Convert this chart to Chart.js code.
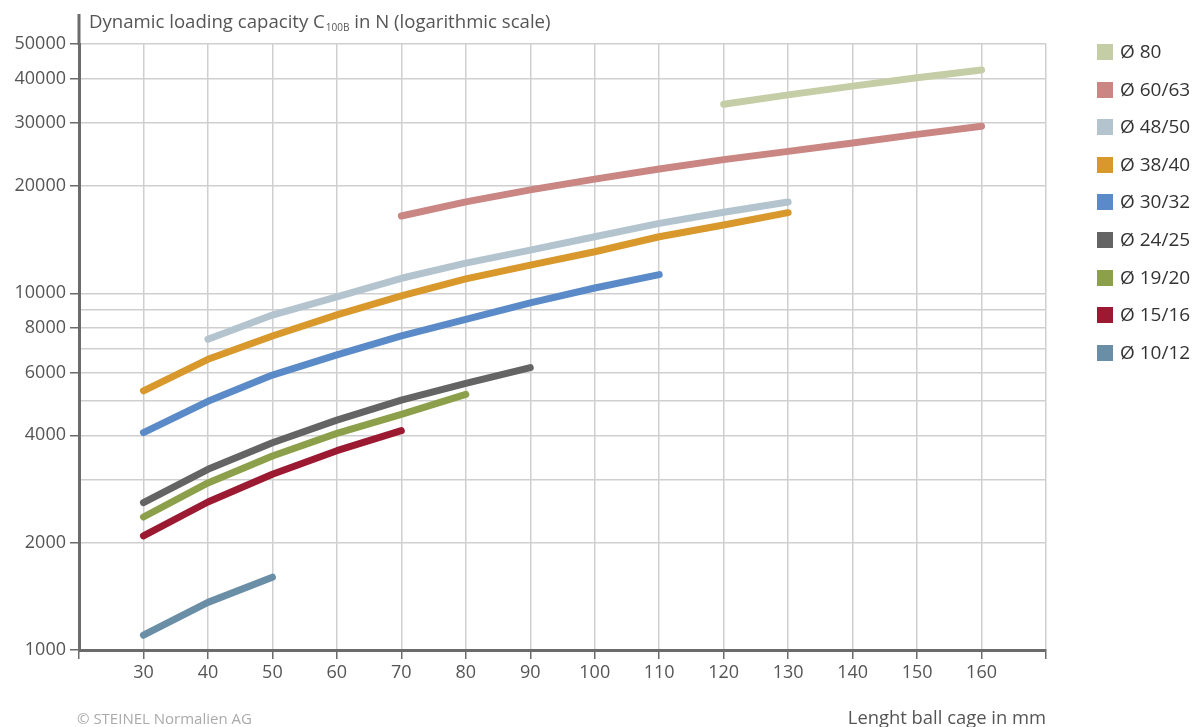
<!DOCTYPE html>
<html>
<head>
<meta charset="utf-8">
<script src="https://cdn.jsdelivr.net/npm/chart.js@4/dist/chart.umd.min.js"></script>
<style>
  html, body { margin: 0; padding: 0; background: #fff; }
  #wrap { position: relative; width: 1200px; height: 727px; overflow: hidden; font-family: "Open Sans", "Noto Sans", sans-serif; }
  canvas { position: absolute; left: 0; top: 0; }
  .txt { position: absolute; white-space: nowrap; }
  #ytitle { left: 89px; top: 8px; font-size: 18.6px; color: #555; }
  #ytitle sub { font-size: 10px; vertical-align: -3px; margin-left: 1px; }
  #xtitle { right: 154px; top: 704px; font-size: 18.4px; color: #555; }
  #copy { left: 77px; top: 708px; font-size: 15px; color: #aaa; }
  #legend { position: absolute; left: 1097px; top: 0; }
  .li { position: absolute; left: 0; width: 110px; height: 24px; }
  .sw { position: absolute; left: 0; top: 4px; width: 16px; height: 16px; }
  .lt { position: absolute; left: 23px; top: -2px; font-size: 19px; color: #333; white-space: nowrap; }
</style>
</head>
<body>
<div id="wrap">
  <canvas id="c" width="1200" height="727"></canvas>
  <div class="txt" id="ytitle">Dynamic loading capacity C<sub>100B</sub> in N (logarithmic scale)</div>
  <div class="txt" id="xtitle">Lenght ball cage in mm</div>
  <div class="txt" id="copy">© STEINEL Normalien AG</div>
  <div id="legend"></div>
</div>
<script>
// Cage lengths in mm (x categories)
const lengths = [30, 40, 50, 60, 70, 80, 90, 100, 110, 120, 130, 140, 150, 160];

// Series values (N), aligned with lengths; null = no value
const d80    = [null, null, null, null, null, null, null, null, null, 33900, 36000, 38100, 40200, 42300];
const d60_63 = [null, null, null, null, 16470, 18050, 19500, 20900, 22300, 23700, 25000, 26400, 27900, 29400];
const d48_50 = [null, 7430, 8690, 9780, 11020, 12150, 13220, 14410, 15710, 16870, 18030, null, null, null];
const d38_40 = [5330, 6530, 7590, 8700, 9830, 10980, 12000, 13080, 14410, 15540, 16830, null, null, null];
const d30_32 = [4070, 4980, 5900, 6720, 7600, 8450, 9400, 10350, 11280, null, null, null, null, null];
const d24_25 = [2590, 3210, 3810, 4410, 5020, 5590, 6190, null, null, null, null, null, null, null];
const d19_20 = [2360, 2940, 3500, 4050, 4580, 5210, null, null, null, null, null, null, null, null];
const d15_16 = [2090, 2600, 3110, 3620, 4120, null, null, null, null, null, null, null, null, null];
const d10_12 = [1100, 1360, 1600, null, null, null, null, null, null, null, null, null, null, null];

const seriesNames = ["Ø 80", "Ø 60/63", "Ø 48/50", "Ø 38/40", "Ø 30/32", "Ø 24/25", "Ø 19/20", "Ø 15/16", "Ø 10/12"];
const seriesValues = [d80, d60_63, d48_50, d38_40, d30_32, d24_25, d19_20, d15_16, d10_12];
const seriesColors = ["#c5cda6", "#c98683", "#b3c4cf", "#d9982c", "#5b8ac8", "#646464", "#8ca04b", "#9b1a32", "#6a8ea6"];

// Y tick labels shown (log scale)
const yLabeled = [1000, 2000, 4000, 6000, 8000, 10000, 20000, 30000, 40000, 50000];
const xMin = 20, xMax = 170, yMin = 1000, yMax = 50000;

const datasets = seriesNames.map((name, i) => ({
  label: name,
  data: lengths.map((x, j) => ({ x: x, y: seriesValues[i][j] })).filter(p => p.y !== null),
  borderColor: seriesColors[i],
  backgroundColor: seriesColors[i],
  borderWidth: 7,
  borderCapStyle: 'round',
  borderJoinStyle: 'round',
  pointRadius: 0,
  tension: 0,
  fill: false
}));

// Legend (HTML)
const leg = document.getElementById('legend');
seriesNames.forEach((name, i) => {
  const li = document.createElement('div');
  li.className = 'li';
  li.style.top = (52 - 12 + i * 37.6) + 'px';
  li.innerHTML = '<div class="sw" style="background:' + seriesColors[i] + '"></div><div class="lt">' + name + '</div>';
  leg.appendChild(li);
});

const axisColor = '#6b6b6b';
const axisExt = {
  id: 'axisExt',
  afterDraw(chart) {
    const ctx = chart.ctx, a = chart.chartArea;
    ctx.save();
    ctx.strokeStyle = axisColor;
    ctx.lineWidth = 3;
    ctx.beginPath();
    ctx.moveTo(a.left, a.top + 1);
    ctx.lineTo(a.left, 14);
    ctx.stroke();
    ctx.restore();
  }
};

new Chart(document.getElementById('c'), {
  type: 'line',
  data: { datasets },
  plugins: [axisExt],
  options: {
    responsive: false,
    animation: false,
    devicePixelRatio: 1,
    layout: { padding: { left: 0, right: 154, top: 44, bottom: 0 } },
    plugins: { legend: { display: false }, tooltip: { enabled: false } },
    scales: {
      x: {
        type: 'linear',
        min: xMin, max: xMax,
        afterFit(s) { s.height = 77; },
        ticks: {
          stepSize: 10,
          autoSkip: false,
          maxRotation: 0,
          padding: 3,
          color: '#555',
          font: { family: '"Open Sans", "Noto Sans", sans-serif', size: 18 },
          callback: v => (v === xMin || v === xMax) ? '' : String(v)
        },
        grid: {
          color: '#cfcfcf',
          lineWidth: 1.5,
          tickLength: 9,
          tickColor: axisColor,
          tickWidth: 1.5
        },
        border: { color: axisColor, width: 3 }
      },
      y: {
        type: 'logarithmic',
        min: yMin, max: yMax,
        afterFit(s) { s.width = 79; },
        afterBuildTicks(s) {
          const t = [];
          for (let v = 1000; v <= 10000; v += 1000) t.push({ value: v });
          for (let v = 20000; v <= 50000; v += 10000) t.push({ value: v });
          s.ticks = t;
        },
        ticks: {
          autoSkip: false,
          padding: 4,
          color: '#555',
          font: { family: '"Open Sans", "Noto Sans", sans-serif', size: 18 },
          callback: v => yLabeled.includes(v) ? String(v) : ''
        },
        grid: {
          color: '#cfcfcf',
          lineWidth: 1.5,
          tickLength: 9,
          tickWidth: 1.5,
          tickColor: ctx => (ctx.tick && yLabeled.includes(ctx.tick.value)) ? axisColor : 'rgba(0,0,0,0)'
        },
        border: { color: axisColor, width: 3 }
      }
    }
  }
});
</script>
</body>
</html>
